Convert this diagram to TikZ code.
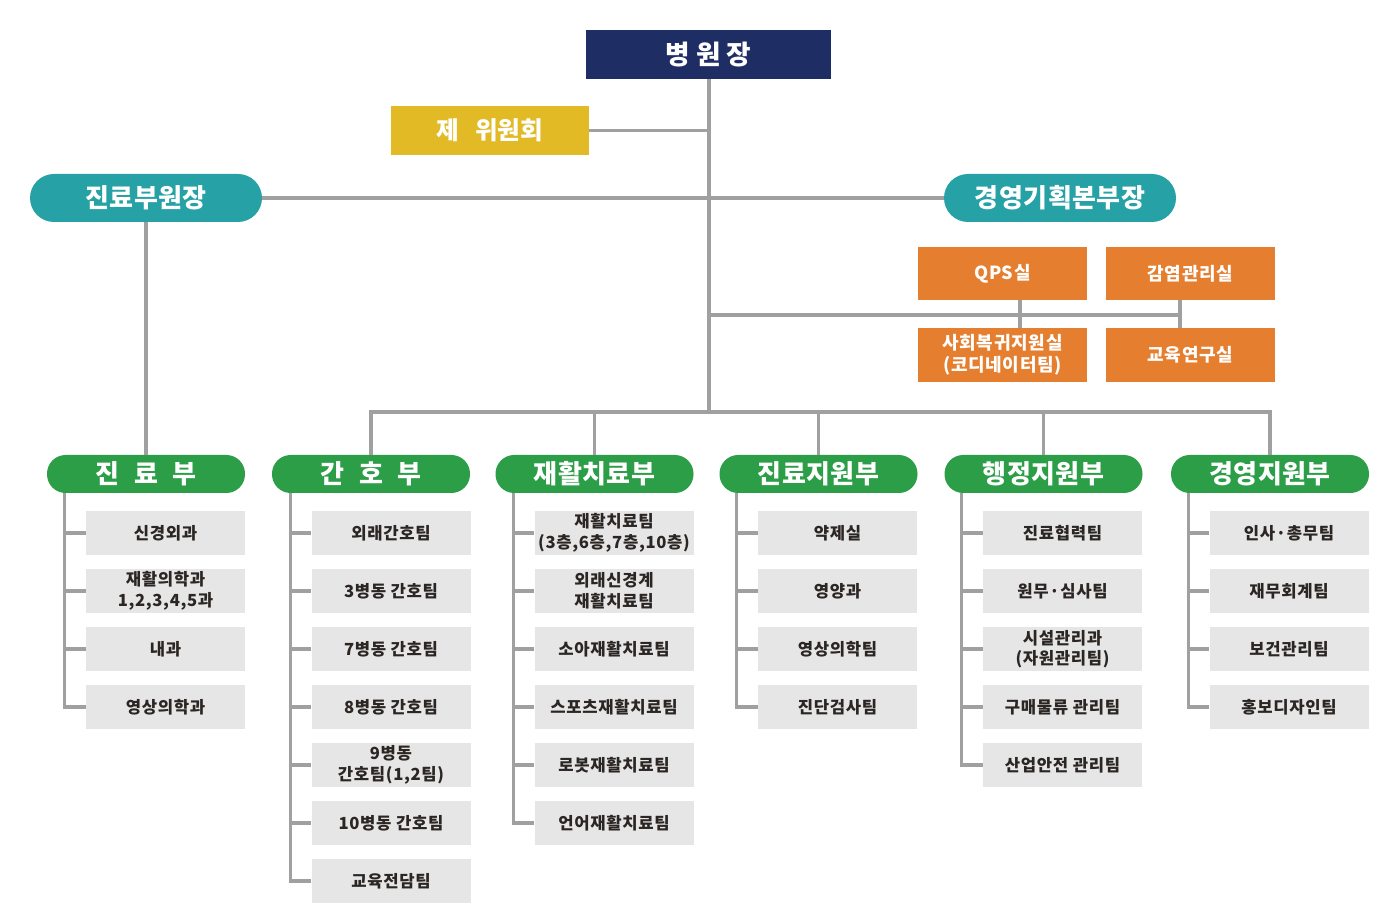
\documentclass[tikz,border=0pt]{standalone}
\usepackage{fontspec}
\usepackage{xcolor}
\usepackage{tikz}
\usetikzlibrary{shapes,arrows,positioning}
\setmainfont{Noto Sans CJK KR}

\definecolor{navy}{HTML}{1E2D63}
\definecolor{mustard}{HTML}{E2BA25}
\definecolor{teal}{HTML}{26A1A6}
\definecolor{tangerine}{HTML}{E57F2F}
\definecolor{leafgreen}{HTML}{2B9E47}
\definecolor{leafgray}{HTML}{E6E6E6}
\definecolor{linegray}{HTML}{A0A0A0}
\definecolor{ink}{HTML}{2B2624}

\begin{document}
\begin{tikzpicture}[x=0.75pt,y=-0.75pt,node distance=43.5pt,
  line/.style={draw=linegray,line width=2.3pt},
  chief/.style={rectangle,fill=navy,text=white,font=\bfseries\fontsize{20}{23}\selectfont,minimum width=183.75pt,minimum height=36.75pt},
  committee/.style={rectangle,fill=mustard,text=white,font=\bfseries\fontsize{18.5}{21}\selectfont,minimum width=148.5pt,minimum height=36.75pt},
  pill/.style={rectangle,rounded corners=18pt,fill=teal,text=white,font=\bfseries\fontsize{19.5}{22}\selectfont\addfontfeature{LetterSpace=2},minimum width=174pt,minimum height=36pt},
  office/.style={rectangle,fill=tangerine,text=white,align=center,font=\bfseries\fontsize{13.5}{16.5}\selectfont\addfontfeature{LetterSpace=4},minimum width=126.75pt,minimum height=40pt},
  dept/.style={rectangle,rounded corners=14pt,fill=leafgreen,text=white,font=\bfseries\fontsize{19.5}{22}\selectfont\addfontfeature{LetterSpace=2},minimum width=148.5pt,minimum height=28.5pt},
  leaf/.style={rectangle,fill=leafgray,text=ink,align=center,font=\bfseries\fontsize{12.5}{15.5}\selectfont\addfontfeature{LetterSpace=4},minimum width=119.25pt,minimum height=33pt,inner sep=1pt}]
\useasboundingbox (0,0) rectangle (1400,905);

% top
\node (chief) [chief] at (708.5,54.5) {병\hspace{0.23em}원\hspace{0.23em}장};
\node (committee) [committee] at (490,130.5) {제\hspace{0.65em}위원회};
\node (vp1) [pill] at (146,198) {진료부원장};
\node (vp2) [pill] at (1060,198) {경영기획본부장};

% offices
\node (qps) [office] at (1002.5,273.5) {QPS실};
\node (infect) [office] at (1190.5,273.5) {감염관리실};
\node (social) [office] at (1002.5,355) {사회복귀지원실\\(코디네이터팀)};
\node (edu) [office] at (1190.5,355) {교육연구실};
\coordinate (tap1) at (1020,315);
\coordinate (tap2) at (1180,315);
\coordinate (hub) at (709,412);

% departments
\node (dept1) [dept] at (146,474) {진\hspace{0.55em}료\hspace{0.55em}부};
\node (dept2) [dept] at (371,474) {간\hspace{0.55em}호\hspace{0.55em}부};
\node (dept3) [dept] at (594.5,474) {재활치료부};
\node (dept4) [dept] at (818.5,474) {진료지원부};
\node (dept5) [dept] at (1043.5,474) {행정지원부};
\node (dept6) [dept] at (1270,474) {경영지원부};

% 진료부
\node (l11) [leaf] at (165.5,533) {신경외과};
\node (l12) [leaf, below of=l11] {재활의학과\\1,2,3,4,5과};
\node (l13) [leaf, below of=l12] {내과};
\node (l14) [leaf, below of=l13] {영상의학과};

% 간호부
\node (l21) [leaf] at (391,533) {외래간호팀};
\node (l22) [leaf, below of=l21] {3병동 간호팀};
\node (l23) [leaf, below of=l22] {7병동 간호팀};
\node (l24) [leaf, below of=l23] {8병동 간호팀};
\node (l25) [leaf, below of=l24] {9병동\\간호팀(1,2팀)};
\node (l26) [leaf, below of=l25] {10병동 간호팀};
\node (l27) [leaf, below of=l26] {교육전담팀};

% 재활치료부
\node (l31) [leaf] at (614,533) {재활치료팀\\(3층,6층,7층,10층)};
\node (l32) [leaf, below of=l31] {외래신경계\\재활치료팀};
\node (l33) [leaf, below of=l32] {소아재활치료팀};
\node (l34) [leaf, below of=l33] {스포츠재활치료팀};
\node (l35) [leaf, below of=l34] {로봇재활치료팀};
\node (l36) [leaf, below of=l35] {언어재활치료팀};

% 진료지원부
\node (l41) [leaf] at (837.5,533) {약제실};
\node (l42) [leaf, below of=l41] {영양과};
\node (l43) [leaf, below of=l42] {영상의학팀};
\node (l44) [leaf, below of=l43] {진단검사팀};

% 행정지원부
\node (l51) [leaf] at (1062.5,533) {진료협력팀};
\node (l52) [leaf, below of=l51] {원무·심사팀};
\node (l53) [leaf, below of=l52] {시설관리과\\(자원관리팀)};
\node (l54) [leaf, below of=l53] {구매물류 관리팀};
\node (l55) [leaf, below of=l54] {산업안전 관리팀};

% 경영지원부
\node (l61) [leaf] at (1289,533) {인사·총무팀};
\node (l62) [leaf, below of=l61] {재무회계팀};
\node (l63) [leaf, below of=l62] {보건관리팀};
\node (l64) [leaf, below of=l63] {홍보디자인팀};

% connectors
\draw[line] (chief.south -| hub) -- (hub);
\draw[line] (committee) -- (committee -| hub);
\draw[line] (vp1) -- (vp2);
\draw[line] (vp1) -- (dept1);
\draw[line] (hub |- tap1) -- (tap2);
\draw[line] (tap1 |- qps.south) -- (tap1 |- social.north);
\draw[line] (tap2 |- infect.south) -- (tap2 |- edu.north);
\draw[line] (dept2.north) -- (dept2.north |- hub) -- (dept6.north |- hub) -- (dept6.north);
\foreach \d in {3,4,5}
  \draw[line] (dept\d.north) -- (dept\d.north |- hub);
\foreach \d/\n in {1/4,2/7,3/6,4/4,5/5,6/4} {
  \path ([xshift=-15.75pt]l\d1.west) coordinate (s\d);
  \draw[line] (s\d |- dept\d.south) |- (l\d\n.west);
  \foreach \i in {1,...,\n}
    \draw[line] (s\d |- l\d\i.west) -- (l\d\i.west);
}
\end{tikzpicture}
\end{document}
